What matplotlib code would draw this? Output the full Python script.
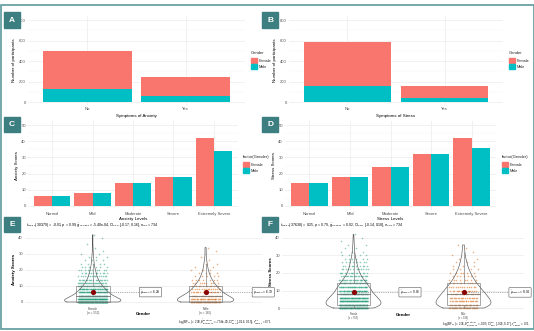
import numpy as np
import matplotlib
matplotlib.use('Agg')
import matplotlib.pyplot as plt
from matplotlib.patches import Rectangle

W, H = 534, 331
plt.rcParams['font.family'] = ['Liberation Sans', 'DejaVu Sans']

# ---- data ----
symptoms = ['No', 'Yes']
anx_female = [372, 182]
anx_male = [126, 64]
str_female = [431, 116]
str_male = [155, 42]

levels = ['Normal', 'Mild', 'Moderate', 'Severe', 'Extremely Severe']
anx_lvl_f = [6, 8, 14, 18, 42]
anx_lvl_m = [6, 8, 14, 18, 34]
str_lvl_f = [14, 18, 24, 32, 42]
str_lvl_m = [14, 18, 24, 32, 36]

scores = [0, 2, 4, 6, 8, 10, 12, 14, 16, 18, 20, 22, 24, 26, 28, 30, 32, 34, 36, 38, 40, 42]
anx_cnt_f = [150, 90, 70, 55, 45, 35, 25, 20, 15, 12, 10, 6, 5, 4, 3, 2, 1, 1, 1, 0, 1, 1]
anx_cnt_m = [50, 30, 24, 18, 15, 12, 9, 7, 5, 4, 3, 2, 2, 1, 1, 0, 1, 1, 0, 0, 0, 0]
str_cnt_f = [70, 75, 70, 60, 50, 45, 40, 35, 25, 20, 15, 12, 10, 8, 6, 4, 3, 2, 2, 1, 1, 1]
str_cnt_m = [25, 25, 22, 20, 18, 15, 13, 11, 8, 7, 6, 4, 3, 3, 2, 1, 1, 1, 1, 0, 0, 0]

FEM, MAL = '#F8766D', '#00BFC4'
TEAL = '#3d7e80'
GRID = '#ebebeb'

fig = plt.figure(figsize=(W / 100, H / 100), dpi=100)


def ax_px(x0, y0, x1, y1):
    return fig.add_axes([x0 / W, 1 - y1 / H, (x1 - x0) / W, (y1 - y0) / H])


def ftext(x, y, s, **kw):
    fig.text(x / W, 1 - y / H, s, **kw)


def clean(ax):
    for sp in ax.spines.values():
        sp.set_visible(False)
    ax.tick_params(length=0, labelsize=3, colors='#4d4d4d', pad=1.5)
    ax.set_axisbelow(True)


def tag(x0, y0, x1, y1, letter):
    fig.patches.append(Rectangle((x0 / W, 1 - y1 / H), (x1 - x0) / W, (y1 - y0) / H,
                                 transform=fig.transFigure, color=TEAL, zorder=5))
    ftext((x0 + x1) / 2, (y0 + y1) / 2, letter, color='white', fontsize=6,
          fontweight='bold', ha='center', va='center', zorder=6)


def legend(x, y, title):
    ftext(x, y, title, fontsize=3, va='center', color='#222222')
    for i, (lab, c) in enumerate([('Female', FEM), ('Male', MAL)]):
        yy = y + 5 + i * 6
        fig.patches.append(Rectangle((x / W, 1 - (yy + 5) / H), 6 / W, 5 / H,
                                     transform=fig.transFigure, color=c))
        ftext(x + 8, yy + 2.5, lab, fontsize=2.8, va='center', color='#222222')


def stacked(box, fem, mal, xlabel, legx):
    ax = ax_px(*box)
    clean(ax)
    x = np.arange(1, len(symptoms) + 1)
    ax.bar(x, mal, 0.9, color=MAL, zorder=2)
    ax.bar(x, fem, 0.9, bottom=mal, color=FEM, zorder=2)
    ax.set_xlim(0.4, 2.6)
    ax.set_ylim(-26, 839)
    ax.set_yticks([0, 200, 400, 600, 800])
    ax.set_yticks([100, 300, 500, 700], minor=True)
    ax.set_xticks(x)
    ax.set_xticklabels(symptoms)
    ax.tick_params(which='minor', length=0)
    ax.grid(True, which='major', color=GRID, lw=0.5)
    ax.grid(True, which='minor', axis='y', color='#f4f4f4', lw=0.3)
    ax.set_xlabel(xlabel, fontsize=3.2, labelpad=2)
    ax.set_ylabel('Number of participants', fontsize=3.2, labelpad=2)
    legend(legx, 53, 'Gender')


def dodged(box, fem, mal, xlabel, ylabel, legx):
    ax = ax_px(*box)
    clean(ax)
    x = np.arange(1, len(levels) + 1)
    ax.bar(x - 0.225, fem, 0.45, color=FEM, zorder=2)
    ax.bar(x + 0.225, mal, 0.45, color=MAL, zorder=2)
    ax.set_xlim(0.4, 5.6)
    ax.set_ylim(-2.5, 52.5)
    ax.set_yticks([0, 10, 20, 30, 40, 50])
    ax.set_yticks([5, 15, 25, 35, 45], minor=True)
    ax.set_xticks(x)
    ax.set_xticklabels(levels)
    ax.tick_params(which='minor', length=0)
    ax.grid(True, which='major', color=GRID, lw=0.5)
    ax.grid(True, which='minor', axis='y', color='#f4f4f4', lw=0.3)
    ax.set_xlabel(xlabel, fontsize=3.2, labelpad=1)
    ax.set_ylabel(ylabel, fontsize=3.2, labelpad=2)
    legend(legx, 157, 'factor(Gender)')


def expand(cnt):
    return np.repeat(scores, cnt).astype(float)


def violin_panel(box, ylim, cnts, ylabel, xlim, ns_label, xlab_y, tick_fs):
    ax = ax_px(*box)
    clean(ax)
    cols = ['#1B9E77', '#D95F02']
    for i, cnt in enumerate(cnts):
        pos = i + 1
        d = expand(cnt)
        n = len(d)
        # violin (gaussian kde, nrd0 bandwidth, scaled to common width)
        iqr = np.subtract(*np.percentile(d, [75, 25]))
        bw = 0.9 * min(d.std(ddof=1), iqr / 1.34) * n ** -0.2
        yy = np.linspace(d.min(), d.max(), 300)
        dens = np.exp(-0.5 * ((yy[:, None] - d[None, :]) / bw) ** 2).sum(1)
        half = dens / dens.max() * 0.25
        ax.plot(np.r_[pos - half, (pos + half)[::-1], pos - half[0]],
                np.r_[yy, yy[::-1], yy[0]], color='#555555', lw=0.45, zorder=4)
        # box
        q1, med, q3 = np.percentile(d, [25, 50, 75])
        lo = d[d >= q1 - 1.5 * (q3 - q1)].min()
        hi = d[d <= q3 + 1.5 * (q3 - q1)].max()
        ax.add_patch(Rectangle((pos - 0.15, q1), 0.3, q3 - q1, fill=False,
                               ec='#777777', lw=0.45, zorder=4))
        ax.plot([pos - 0.15, pos + 0.15], [med, med], color='#777777', lw=0.6, zorder=4)
        ax.plot([pos, pos], [q3, hi], color='#777777', lw=0.45, zorder=4)
        ax.plot([pos, pos], [lo, q1], color='#777777', lw=0.45, zorder=4)
        # points, spread deterministically across the band
        xs, ys = [], []
        for s, c in zip(scores, cnt):
            k = np.arange(c)
            off = ((k * 0.618034 + s * 0.37) % 1 - 0.5) * 0.26
            xs.extend(pos + off)
            ys.extend([s] * c)
        ax.scatter(xs, ys, s=1.3, color=cols[i], alpha=0.5, lw=0, zorder=3)
        # mean
        m = d.mean()
        ax.scatter([pos], [m], s=14, color='darkred', zorder=6, lw=0)
        ax.plot([pos, pos + 0.42], [m, m], ls=(0, (2, 2)), color='#666666',
                lw=0.4, zorder=5)
        ax.text(pos + 0.42, m, r'$\hat{\mu}_{\mathrm{mean}}$ = %.2f' % m, fontsize=2.3,
                va='center', ha='left', zorder=6,
                bbox=dict(boxstyle='round,pad=0.25', fc='white', ec='#555555', lw=0.4))
    ax.set_xlim(*xlim)
    ax.set_ylim(*ylim)
    ax.set_yticks([0, 10, 20, 30, 40])
    ax.set_xticks([1, 2])
    ax.set_xticklabels(['Female\n(n = %d)' % ns_label[0], 'Male\n(n = %d)' % ns_label[1]],
                       fontsize=tick_fs, linespacing=1.0)
    ax.tick_params(axis='x', pad=0.8)
    ax.grid(True, axis='y', color=GRID, lw=0.5)
    ax.set_xlabel('Gender', fontsize=3.2, fontweight='bold')
    ax.xaxis.set_label_coords(0.5, -(xlab_y - box[3]) / (box[3] - box[1]))
    ax.set_ylabel(ylabel, fontsize=3.2, fontweight='bold', labelpad=2)
    return ax


# A, B
stacked((28, 16, 245, 105), anx_female, anx_male, 'Symptoms of Anxiety', 251)
stacked((289, 16, 503, 105), str_female, str_male, 'Symptoms of Stress', 509)
tag(4, 12, 20, 28, 'A')
tag(262, 12, 278, 28, 'B')

# C, D
dodged((28, 121, 238, 210), anx_lvl_f, anx_lvl_m, 'Anxiety Levels', 'Anxiety Scores', 243)
dodged((285, 121, 496, 210), str_lvl_f, str_lvl_m, 'Stress Levels', 'Stress Scores', 502)
tag(4, 117, 20, 132, 'C')
tag(262, 117, 278, 132, 'D')

# E, F
n_e = (sum(anx_cnt_f), sum(anx_cnt_m))
n_f = (sum(str_cnt_f), sum(str_cnt_m))
violin_panel((25, 232, 262, 306), (-2.5, 43.7), [anx_cnt_f, anx_cnt_m],
             'Anxiety Scores', (0.4, 2.5), n_e, 312, 2.2)
violin_panel((282, 232, 524, 311), (-1.7, 43.4), [str_cnt_f, str_cnt_m],
             'Stress Scores', (0.35, 2.55), n_f, 313, 1.8)
tag(4, 217, 20, 232, 'E')
tag(262, 217, 278, 232, 'F')

ftext(26, 225, r'$t_{\mathrm{Welch}}$(303.79) = -0.01, $p$ = 0.99, $\hat{g}_{\mathrm{Hedges}}$ = -5.40e-04, '
      r'CI$_{95\%}$ [-0.17, 0.16], $n_{\mathrm{obs}}$ = 734', fontsize=2.5, va='center')
ftext(280, 225, r'$t_{\mathrm{Welch}}$(376.38) = 0.25, $p$ = 0.79, $\hat{g}_{\mathrm{Hedges}}$ = 0.02, '
      r'CI$_{95\%}$ [-0.14, 0.18], $n_{\mathrm{obs}}$ = 734', fontsize=2.5, va='center')
ftext(272, 322, r'log$_e$(BF$_{01}$) = 2.38, $\hat{\delta}^{\mathrm{posterior}}_{\mathrm{difference}}$ = -7.58e-03, '
      r'CI$^{\mathrm{ETI}}_{95\%}$ [-0.16, 0.15], $r^{\mathrm{JZS}}_{\mathrm{Cauchy}}$ = 0.71',
      fontsize=2.0, ha='right', va='center')
ftext(530, 323.5, r'log$_e$(BF$_{01}$) = 2.36, $\hat{\delta}^{\mathrm{posterior}}_{\mathrm{difference}}$ = -0.05, '
      r'CI$^{\mathrm{ETI}}_{95\%}$ [-0.26, 0.17], $r^{\mathrm{JZS}}_{\mathrm{Cauchy}}$ = 0.71',
      fontsize=2.0, ha='right', va='center')

# outer frame
fig.patches.append(Rectangle((0.5 / W, 1 - 329 / H), 533 / W, 324 / H, transform=fig.transFigure,
                             fill=False, ec='#5b9a9c', lw=1.2, zorder=10))

fig.savefig('out.png', dpi=100)
